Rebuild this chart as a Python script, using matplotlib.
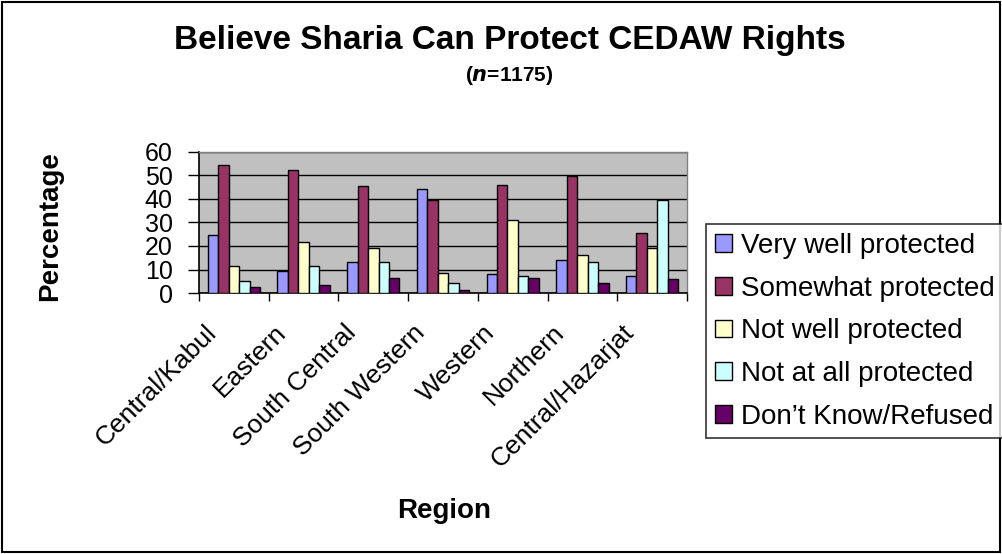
import matplotlib
matplotlib.use("Agg")
import matplotlib.pyplot as plt
import matplotlib.transforms as mtransforms
import numpy as np
from matplotlib.patches import Rectangle

plt.rcParams['font.family'] = ['Liberation Sans', 'DejaVu Sans']

regions = ["Central/Kabul", "Eastern", "South Central", "South Western",
           "Western", "Northern", "Central/Hazarjat"]
series_names = ["Very well protected", "Somewhat protected", "Not well protected",
                "Not at all protected", "Don\u2019t Know/Refused"]
very_well = [24.7, 9.3, 13.3, 44.3, 8.0, 14.1, 7.3]
somewhat = [54.4, 52.1, 45.3, 39.7, 46.1, 49.9, 25.6]
not_well = [11.7, 21.7, 19.3, 8.6, 30.9, 16.3, 19.3]
not_at_all = [5.0, 11.7, 13.3, 4.3, 7.3, 13.4, 39.7]
dont_know = [2.7, 3.6, 6.6, 1.3, 6.6, 4.3, 6.0]
yticks = [0, 10, 20, 30, 40, 50, 60]

colors = ["#9999FF", "#993366", "#FFFFCC", "#CCFFFF", "#660066"]
data = [very_well, somewhat, not_well, not_at_all, dont_know]

fig = plt.figure(figsize=(10.02, 5.54), dpi=100)
fig.patches.append(Rectangle((0.002, 0.003), 0.996, 0.994, transform=fig.transFigure,
                             fill=False, edgecolor='black', linewidth=1.5))
ax = fig.add_axes([0.1986, 0.471, 0.487, 0.255])
ax.set_facecolor("#C0C0C0")

x = np.arange(len(regions))
w = 0.15
for i, (vals, c) in enumerate(zip(data, colors)):
    ax.bar(x + (i - 2) * w, vals, width=w, color=c, edgecolor='black',
           linewidth=1.0, label=series_names[i], zorder=3)

ax.set_xlim(-0.5, len(regions) - 0.5)
ax.set_ylim(0, 60)
ax.set_yticks(yticks)
ax.set_yticklabels([str(v) for v in yticks], fontsize=18)
ax.yaxis.grid(True, color='black', linewidth=1.0, zorder=1)
ax.set_axisbelow(True)
ax.set_xticks(x)
ax.set_xticklabels(regions, rotation=45, ha='right', va='top', fontsize=19,
                   rotation_mode='default')
ax.tick_params(axis='x', length=0, pad=0)
offset = mtransforms.ScaledTranslation(-0.13, -0.27, fig.dpi_scale_trans)
for lab in ax.get_xticklabels():
    lab.set_transform(lab.get_transform() + offset)
ax.set_xticks(np.arange(len(regions) + 1) - 0.5, minor=True)
ax.tick_params(axis='x', which='minor', length=6, width=1, direction='out')
ax.tick_params(axis='y', length=8, width=1, direction='out', pad=11)
for s in ['top', 'right']:
    ax.spines[s].set_color('#808080')
    ax.spines[s].set_linewidth(1)
for s in ['left', 'bottom']:
    ax.spines[s].set_color('black')
    ax.spines[s].set_linewidth(1.2)

fig.text(0.05, 0.592, "Percentage", rotation=90, ha='center', va='center',
         fontsize=20, fontweight='bold')

fig.text(0.509, 0.9116, "Believe Sharia Can Protect CEDAW Rights", ha='center',
         va='baseline', fontsize=24, fontweight='bold')
fig.text(0.508, 0.863, r"($\mathbfit{n}$=1175)", ha='center', va='center',
         fontsize=15, fontweight='bold')
fig.text(0.443, 0.065, "Region", ha='center', va='baseline', fontsize=20,
         fontweight='bold')

leg = fig.legend(loc='upper left', bbox_to_anchor=(0.7046, 0.5957), fontsize=20,
                 frameon=True, fancybox=False, edgecolor='black',
                 handlelength=0.61, handleheight=0.61, handletextpad=0.32,
                 labelspacing=0.6, borderpad=0.32, borderaxespad=0)
leg.get_frame().set_linewidth(1.2)

fig.savefig("out.png", dpi=100)
